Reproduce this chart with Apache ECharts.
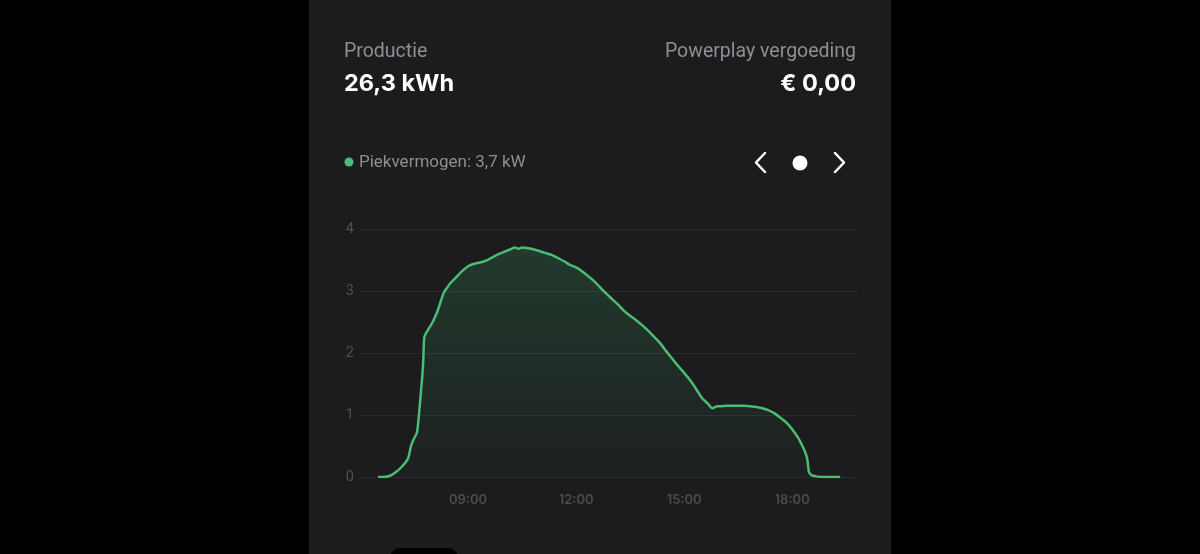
<!DOCTYPE html>
<html>
<head>
<meta charset="utf-8">
<script src="https://cdn.jsdelivr.net/npm/echarts@6/dist/echarts.min.js"></script>
<style>
html,body{margin:0;padding:0;background:#000;}
#c{width:1200px;height:554px;}
</style>
</head>
<body>
<div id="c"></div>
<script>
// ---- data ----
const times = ["06:30","06:40","06:50","07:00","07:10","07:20","07:25","07:30","07:35","07:40","07:45","07:47","07:50","07:55",
"08:00","08:05","08:10","08:15","08:20","08:25","08:30","08:40","08:50","09:00","09:10","09:20","09:30","09:40","09:50",
"10:00","10:10","10:18","10:24","10:30","10:40","10:50","11:00","11:10","11:20","11:30","11:40","11:50",
"12:00","12:10","12:20","12:30","12:40","12:50","13:00","13:10","13:20","13:30","13:40","13:50",
"14:00","14:10","14:20","14:30","14:40","14:50","15:00","15:10","15:20","15:30","15:40","15:47","15:55",
"16:00","16:10","16:20","16:30","16:40","16:50","17:00","17:10","17:20","17:30","17:40","17:50",
"18:00","18:10","18:15","18:20","18:25","18:28","18:32","18:40","18:50","19:00","19:10","19:20"];
const powerKW = [0.00,0.00,0.02,0.08,0.17,0.30,0.50,0.62,0.72,1.20,1.80,2.25,2.32,2.40,
2.48,2.58,2.70,2.85,2.98,3.05,3.12,3.22,3.32,3.40,3.44,3.46,3.49,3.54,3.59,
3.63,3.67,3.70,3.68,3.70,3.69,3.67,3.64,3.61,3.58,3.53,3.48,3.42,
3.38,3.32,3.24,3.16,3.06,2.96,2.87,2.78,2.68,2.60,2.53,2.45,
2.36,2.26,2.16,2.03,1.91,1.79,1.68,1.56,1.42,1.27,1.18,1.11,1.14,
1.14,1.15,1.15,1.15,1.15,1.14,1.13,1.11,1.08,1.03,0.96,0.88,
0.77,0.63,0.54,0.44,0.30,0.08,0.03,0.01,0.00,0.00,0.00,0.00];
const xTickHours = [9,12,15,18];
const yTicks = [0,1,2,3,4];
const headerLeftLabel = "Productie";
const headerLeftValue = "26,3 kWh";
const headerRightLabel = "Powerplay vergoeding";
const headerRightValue = "€ 0,00";
const legendText = "Piekvermogen: 3,7 kW";

function toHours(s){const p=s.split(':');return +p[0]+ +p[1]/60;}
const seriesData = times.map((t,i)=>[toHours(t), powerKW[i]]);

const chart = echarts.init(document.getElementById('c'), null, {renderer:'canvas'});
const font = 'Roboto, "Noto Sans", sans-serif';
const boldFont = 'Inter, Roboto, sans-serif';
chart.setOption({
  backgroundColor:'#000',
  animation:false,
  grid:{left:360,right:343,top:229,bottom:77,containLabel:false},
  xAxis:{
    type:'value', min:6, max:19.8, interval:3,
    axisLine:{show:false}, axisTick:{show:false}, splitLine:{show:false},
    axisLabel:{
      color:'#4b4b4e', fontSize:13, fontWeight:600, fontFamily:boldFont, margin:17,
      formatter:function(v){
        const h=Math.round(v*100)/100;
        if(xTickHours.indexOf(h)>=0) return (h<10?'0':'')+h+':00';
        return '';
      }
    }
  },
  yAxis:{
    type:'value', min:yTicks[0], max:yTicks[yTicks.length-1], interval:1,
    axisLine:{show:false}, axisTick:{show:false},
    splitLine:{lineStyle:{color:'#2b2b2d',width:1}},
    axisLabel:{color:'#505053',fontSize:14.5,fontFamily:font,margin:6}
  },
  series:[{
    type:'line', data:seriesData, showSymbol:false, smooth:0.25,
    lineStyle:{color:'#4cbb74',width:2.5},
    itemStyle:{color:'#4cbb74'},
    areaStyle:{color:new echarts.graphic.LinearGradient(0,0,0,1,[
      {offset:0,color:'rgba(60,170,100,0.30)'},
      {offset:1,color:'rgba(60,170,100,0.04)'}
    ])},
    z:3
  }],
  graphic:[
    {type:'rect',z:-10,silent:true,shape:{x:309,y:0,width:582,height:554},style:{fill:'#1c1c1e'}},
    {type:'text',x:344,y:52,style:{text:headerLeftLabel,fill:'#8e8e93',font:'19.5px '+font,textVerticalAlign:'middle',textAlign:'left'}},
    {type:'text',x:344,y:84,style:{text:headerLeftValue,fill:'#ffffff',font:'bold 23.5px '+boldFont,textVerticalAlign:'middle',textAlign:'left'}},
    {type:'text',x:856,y:52,style:{text:headerRightLabel,fill:'#8e8e93',font:'19.5px '+font,textVerticalAlign:'middle',textAlign:'right'}},
    {type:'text',x:856,y:84,style:{text:headerRightValue,fill:'#ffffff',font:'bold 23.5px '+boldFont,textVerticalAlign:'middle',textAlign:'right'}},
    {type:'circle',shape:{cx:349,cy:162,r:4.5},style:{fill:'#4cbb74'}},
    {type:'text',x:359,y:163,style:{text:legendText,fill:'#8e8e93',font:'17px '+font,textVerticalAlign:'middle',textAlign:'left'}},
    {type:'polyline',shape:{points:[[765,153],[756,162.5],[765,172]]},style:{stroke:'#ffffff',lineWidth:2.5,fill:null,lineCap:'round',lineJoin:'round'}},
    {type:'circle',shape:{cx:800,cy:163,r:7.5},style:{fill:'#ffffff'}},
    {type:'polyline',shape:{points:[[835,153],[844,162.5],[835,172]]},style:{stroke:'#ffffff',lineWidth:2.5,fill:null,lineCap:'round',lineJoin:'round'}},
    {type:'rect',shape:{x:390,y:548,width:68,height:20,r:10},style:{fill:'#000000'}}
  ]
});
</script>
</body>
</html>
